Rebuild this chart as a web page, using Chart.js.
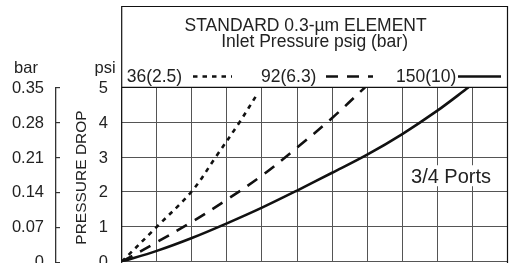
<!DOCTYPE html>
<html>
<head>
<meta charset="utf-8">
<script src="https://cdn.jsdelivr.net/npm/chart.js@4"></script>
<style>
  html, body { margin: 0; padding: 0; background: #fff; overflow: hidden; }
</style>
</head>
<body>
<canvas id="chart" width="526" height="300"></canvas>
<script>
// flow axis has 11 grid divisions; its labels are cut off in the original
const flowMax = 11;
const psiTicks = ['0', '1', '2', '3', '4', '5'];
const barTicks = ['0', '0.07', '0.14', '0.21', '0.28', '0.35'];
const barValues = [0, 0.07, 0.14, 0.21, 0.28, 0.35];
const inletLabels = ['36(2.5)', '92(6.3)', '150(10)'];

// pressure drop (psi) vs flow
const flow36 = [0, 1, 2, 2.68, 3.36, 3.88];
const drop36 = [0, 1, 2.02, 3, 4, 4.83];
const flow92 = [0, 1, 2, 3, 4, 5, 6, 6.94];
const drop92 = [0, 0.56, 1.14, 1.78, 2.47, 3.27, 4.12, 5];
const flow150 = [0, 1, 2, 3, 4, 5, 6, 7, 8, 9, 9.89];
const drop150 = [0, 0.31, 0.68, 1.1, 1.55, 2.04, 2.55, 3.07, 3.66, 4.33, 5];

const toPoints = (xs, ys) => xs.map((x, i) => ({ x, y: ys[i] }));
const dashes = [[4.5, 5], [12, 9], []];
const FONT = '"Liberation Sans", Arial, sans-serif';
const INK = '#222';

const annotations = {
  id: 'annotations',
  afterDraw(chart) {
    const { ctx, chartArea: a, scales } = chart;
    const ys = scales.y, yb = scales.y2, xs = scales.x;
    const boxTop = 6.5;
    const mid = (a.left + a.right) / 2;
    ctx.save();

    // outer frame around legend box and plot
    ctx.strokeStyle = '#111';
    ctx.lineWidth = 1.2;
    ctx.beginPath();
    ctx.moveTo(a.left, a.bottom + 40);
    ctx.lineTo(a.left, boxTop);
    ctx.lineTo(a.right, boxTop);
    ctx.lineTo(a.right, a.bottom + 40);
    ctx.moveTo(a.left, a.top);
    ctx.lineTo(a.right, a.top);
    ctx.stroke();

    // titles
    ctx.fillStyle = INK;
    ctx.textBaseline = 'alphabetic';
    ctx.textAlign = 'center';
    ctx.font = '17.5px ' + FONT;
    ctx.fillText('STANDARD 0.3-\u00b5m ELEMENT', mid - 9, 31);
    ctx.fillText('Inlet Pressure psig (bar)', mid, 47);

    // legend row
    const legendX = [a.left + 5, 261, 396];
    const sampleX = [[193, 232], [326, 373], [458, 501]];
    ctx.textAlign = 'left';
    inletLabels.forEach((label, i) => {
      ctx.fillStyle = INK;
      ctx.fillText(label, legendX[i], 82);
      ctx.strokeStyle = '#111';
      ctx.lineWidth = 2.6;
      ctx.setLineDash(dashes[i]);
      ctx.beginPath();
      ctx.moveTo(sampleX[i][0], 76.5);
      ctx.lineTo(sampleX[i][1], 76.5);
      ctx.stroke();
    });
    ctx.setLineDash([]);

    // psi and bar tick labels
    ctx.fillStyle = INK;
    ctx.font = '16.5px ' + FONT;
    ctx.textAlign = 'right';
    ctx.textBaseline = 'middle';
    psiTicks.forEach(t => {
      ctx.fillText(t, 108, ys.getPixelForValue(Number(t)) + 1);
    });
    barTicks.forEach((t, i) => {
      ctx.fillText(t, 44, yb.getPixelForValue(barValues[i]) + 1);
    });

    // bar axis line with short ticks, drawn as filled rects
    ctx.fillStyle = '#333';
    const barTop = Math.round(yb.getPixelForValue(0.35));
    ctx.fillRect(55, barTop, 1.3, a.bottom + 20 - barTop);
    barValues.forEach(v => {
      ctx.fillRect(55, Math.round(yb.getPixelForValue(v)), 5, 1.2);
    });

    ctx.fillStyle = INK;
    ctx.textBaseline = 'alphabetic';
    ctx.textAlign = 'center';
    ctx.fillText('bar', 26, 73);
    ctx.fillText('psi', 105, 73);

    // rotated axis title
    ctx.save();
    ctx.translate(86, (a.top + a.bottom) / 2 + 3);
    ctx.rotate(-Math.PI / 2);
    ctx.font = '15.5px ' + FONT;
    ctx.fillText('PRESSURE DROP', 0, 0);
    ctx.restore();

    // port size label with white backing
    const px = xs.getPixelForValue(9.39);
    const py = ys.getPixelForValue(2.45);
    ctx.font = '20px ' + FONT;
    const w = ctx.measureText('3/4 Ports').width;
    ctx.fillStyle = '#fff';
    ctx.fillRect(px - w / 2 - 3, py - 11, w + 6, 21);
    ctx.fillStyle = INK;
    ctx.textBaseline = 'middle';
    ctx.fillText('3/4 Ports', px, py + 1);

    ctx.restore();
  }
};

const lineSet = (data, dash) => ({
  data,
  borderColor: '#111',
  borderWidth: 2.6,
  borderDash: dash,
  pointRadius: 0,
  fill: false,
  tension: 0.35
});

new Chart(document.getElementById('chart'), {
  type: 'line',
  data: {
    datasets: [
      lineSet(toPoints(flow36, drop36), dashes[0]),
      lineSet(toPoints(flow92, drop92), dashes[1]),
      lineSet(toPoints(flow150, drop150), dashes[2])
    ]
  },
  options: {
    responsive: false,
    animation: false,
    devicePixelRatio: 1,
    layout: { padding: { left: 121.7, right: 18.5, top: 87.3, bottom: 38.3 } },
    plugins: { legend: { display: false }, tooltip: { enabled: false } },
    scales: {
      x: {
        type: 'linear', min: 0, max: flowMax,
        ticks: { display: false, stepSize: 1 },
        grid: { color: '#555', lineWidth: 1, drawTicks: false },
        border: { display: false },
        afterFit: s => { s.height = 0; }
      },
      y: {
        min: 0, max: 5,
        ticks: { display: false, stepSize: 1 },
        grid: { color: '#555', lineWidth: 1, drawTicks: false },
        border: { display: false },
        afterFit: s => { s.width = 0; }
      },
      y2: {
        position: 'left', min: 0, max: 0.35,
        ticks: { display: false },
        grid: { display: false, drawTicks: false },
        border: { display: false },
        afterFit: s => { s.width = 0; }
      }
    }
  },
  plugins: [annotations]
});
</script>
</body>
</html>
